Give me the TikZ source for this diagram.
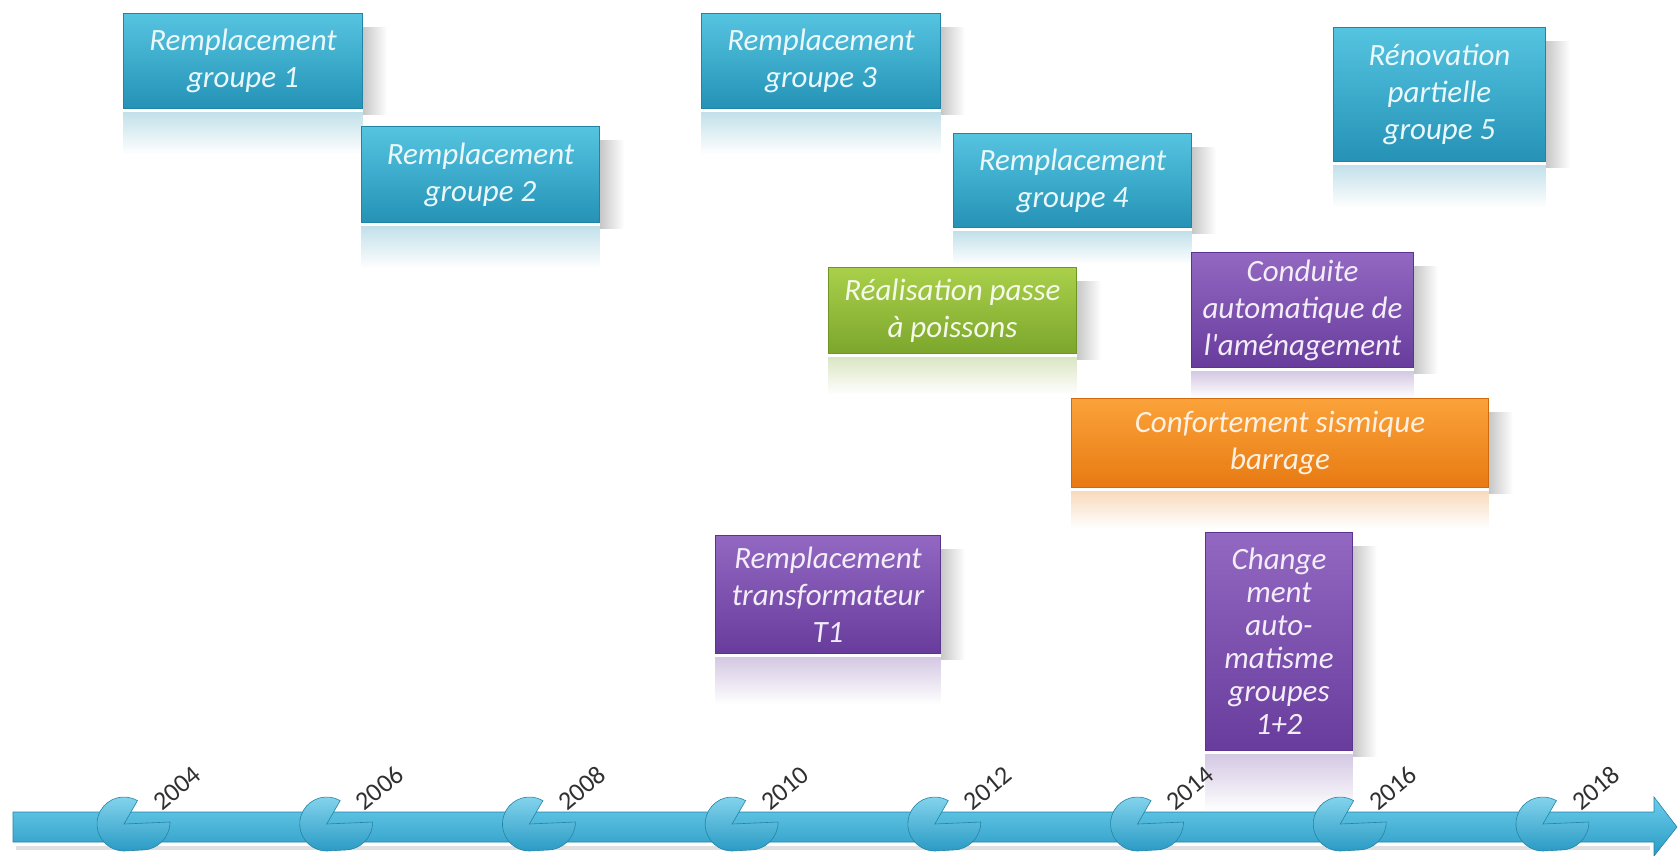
\documentclass[tikz,border=0pt]{standalone}
\usepackage{fontspec}
\newfontfamily\boxfont{Carlito}
\usetikzlibrary{fadings}
\pgfdeclarelayer{bg}
\pgfsetlayers{bg,main}
\definecolor{bluetop}{HTML}{55C4E0}
\definecolor{bluebot}{HTML}{2592B6}
\definecolor{blueedge}{HTML}{1F84A6}
\definecolor{purtop}{HTML}{9268C2}
\definecolor{purbot}{HTML}{683C9C}
\definecolor{puredge}{HTML}{5C3390}
\definecolor{grntop}{HTML}{AAD04A}
\definecolor{grnbot}{HTML}{7CA62C}
\definecolor{grnedge}{HTML}{6E9626}
\definecolor{ortop}{HTML}{FBA23A}
\definecolor{orbot}{HTML}{E87A12}
\definecolor{oredge}{HTML}{D06A0A}
\definecolor{bartop}{HTML}{6CCDEB}
\definecolor{barbot}{HTML}{2A9BC4}
\definecolor{yeartxt}{HTML}{303030}
\tikzset{
  evt/.style={rectangle, inner sep=0pt, align=center, anchor=north west,
    font=\boxfont\itshape\fontsize{31}{37}\selectfont, line width=1pt},
  bluebox/.style={evt, top color=bluetop, bottom color=bluebot, draw=blueedge, text=white!88!bluetop},
  purbox/.style={evt, top color=purtop, bottom color=purbot, draw=puredge, text=white!88!purtop},
  grnbox/.style={evt, top color=grntop, bottom color=grnbot, draw=grnedge, text=white!88!grntop},
  orbox/.style={evt, top color=ortop, bottom color=orbot, draw=oredge, text=white!85!ortop},
  refl/.style={fill=#1, opacity=0.28, path fading=south},
  shd/.style={fill=black, opacity=0.22, path fading=east},
  yearlbl/.style={font=\boxfont\fontsize{26}{27}\selectfont, text=yeartxt, rotate=40, anchor=base west, inner sep=0pt},
  pac/.style={top color=bartop!80!white, bottom color=barbot, draw=barbot!85!black, line width=0.6pt}
}
\newcommand{\boxfx}[3]{%
  \fill[shd] ([yshift=-14pt]#1.north east) rectangle ([xshift=24pt,yshift=-6pt]#1.south east);
  \fill[refl=#2] ([yshift=-3pt]#1.south west) rectangle ([yshift=-#3pt]#1.south east);
}
\begin{document}
\begin{tikzpicture}[x=1pt,y=-1pt]
\useasboundingbox (0,0) rectangle (1679,856);
\begin{pgfonlayer}{bg}
\fill[white] (0,0) rectangle (1679,856);
\end{pgfonlayer}

% event boxes
\node[bluebox, minimum width=239pt, minimum height=95pt] (g1) at (123,13) {Remplacement\\groupe 1};
\node[bluebox, minimum width=238pt, minimum height=96pt] (g2) at (361,126) {Remplacement\\groupe 2};
\node[bluebox, minimum width=239pt, minimum height=95pt] (g3) at (701,13) {Remplacement\\groupe 3};
\node[bluebox, minimum width=238pt, minimum height=94pt] (g4) at (953,133) {Remplacement\\groupe 4};
\node[bluebox, minimum width=212pt, minimum height=134pt] (g5) at (1333,27) {Rénovation\\partielle\\groupe 5};
\node[grnbox, minimum width=248pt, minimum height=86pt] (fish) at (828,267) {Réalisation passe\\à poissons};
\node[purbox, minimum width=222pt, minimum height=115pt] (cond) at (1191,252) {Conduite\\automatique de\\l'aménagement};
\node[orbox, minimum width=417pt, minimum height=89pt] (seis) at (1071,398) {Confortement sismique\\barrage};
\node[purbox, minimum width=225pt, minimum height=118pt] (t1) at (715,535) {Remplacement\\transformateur\\T1};
\node[purbox, minimum width=147pt, minimum height=218pt, font=\boxfont\itshape\fontsize{31}{33}\selectfont] (chg) at (1205,532) {Change\\ment\\auto-\\matisme\\groupes\\1+2};

% shadows and reflections
\begin{pgfonlayer}{bg}
\boxfx{g1}{bluebot}{45}
\boxfx{g2}{bluebot}{45}
\boxfx{g3}{bluebot}{45}
\boxfx{g4}{bluebot}{36}
\boxfx{g5}{bluebot}{45}
\boxfx{fish}{grnbot}{40}
\boxfx{cond}{purbot}{30}
\boxfx{seis}{orbot}{40}
\boxfx{t1}{purbot}{50}
\boxfx{chg}{purbot}{60}
\end{pgfonlayer}

% timeline arrow
\fill[black, opacity=0.12] (16,846) rectangle (1650,850);
\path[top color=bartop, bottom color=barbot, draw=barbot!85!black, line width=0.6pt]
  (13,812) -- (1654,812) -- (1654,797) -- (1677,827) -- (1654,856) -- (1654,842) -- (13,842) -- cycle;

% year markers
\foreach \i/\yr in {0/2004,1/2006,2/2008,3/2010,4/2012,5/2014,6/2016,7/2018}{
  \pgfmathsetmacro{\cx}{124+202.7*\i}
  \path[pac] (\cx,824) -- ++(60:27pt) arc[start angle=60, end angle=270, radius=27pt]
     -- (\cx+18,850) arc[start angle=-90, end angle=0, radius=28pt] -- cycle;
  \node[yearlbl] (y\yr) at (\cx+38,812) {\yr};
}
\end{tikzpicture}
\end{document}
